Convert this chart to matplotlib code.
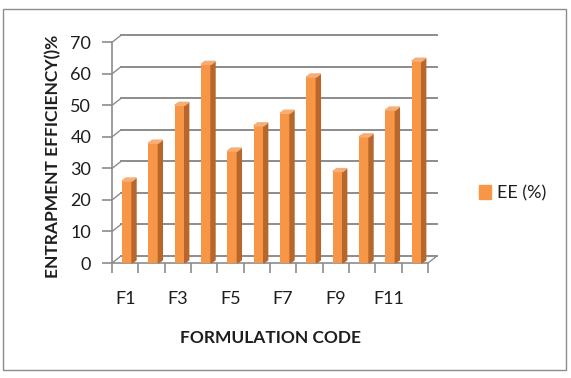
import matplotlib
matplotlib.use("Agg")
import matplotlib.pyplot as plt
from matplotlib.patches import Polygon, Rectangle, Patch

# Data
codes = ["F1", "F2", "F3", "F4", "F5", "F6", "F7", "F8", "F9", "F10", "F11", "F12"]
ee = [26, 38, 50, 63, 35.5, 43.5, 47.5, 59, 29, 40, 48.5, 64]
y_ticks = [0, 10, 20, 30, 40, 50, 60, 70]
shown_labels = ["F1", "F3", "F5", "F7", "F9", "F11"]

plt.rcParams["font.family"] = ["Lato", "DejaVu Sans"]

W, H = 571, 378
fig = plt.figure(figsize=(W / 100, H / 100), dpi=100)
ax = fig.add_axes([112 / W, 1 - 263 / H, 316 / W, (263 - 42.3) / H])
ax.set_xlim(0, len(codes))
ax.set_ylim(0, 70)

# pixel -> data conversion for the fake 3D depth
sx = len(codes) / ax.bbox.width
sy = 70 / ax.bbox.height
wall_dx, wall_dy = 9 * sx, 7 * sy
bar_dx, bar_dy = 4 * sx, 3 * sy

grid_c = "#8c8c8c"
text_c = "#1e1e1e"

# back wall gridlines + left diagonals
for v in y_ticks:
    ax.plot([wall_dx, len(codes) + wall_dx], [v + wall_dy, v + wall_dy],
            color=grid_c, lw=1.4, clip_on=False, zorder=1)
    ax.plot([0, wall_dx], [v, v + wall_dy], color=grid_c, lw=1.0,
            clip_on=False, zorder=1)
# right floor diagonal
ax.plot([len(codes), len(codes) + wall_dx], [0, wall_dy], color=grid_c,
        lw=1.0, clip_on=False, zorder=1)

# bars: front face, side face and top
front_c = "#F79646"
side_c = "#B8672C"
top_c = "#F6AE76"
bw = 0.38
lefts = [i + 0.38 for i in range(len(codes))]
ax.bar(lefts, ee, width=bw, align="edge", color=front_c, label="EE (%)",
       zorder=3, clip_on=False)
for x0, v in zip(lefts, ee):
    x1 = x0 + bw
    ax.add_patch(Polygon([(x1, 0), (x1 + bar_dx, bar_dy), (x1 + bar_dx, v + bar_dy), (x1, v)],
                         closed=True, color=side_c, zorder=3, clip_on=False))
    ax.add_patch(Polygon([(x0, v), (x1, v), (x1 + bar_dx, v + bar_dy), (x0 + bar_dx, v + bar_dy)],
                         closed=True, color=top_c, zorder=3, clip_on=False))

# spines and ticks
for s in ["top", "right"]:
    ax.spines[s].set_visible(False)
for s in ["left", "bottom"]:
    ax.spines[s].set_color(grid_c)
    ax.spines[s].set_linewidth(1.2)
ax.set_yticks(y_ticks)
ax.set_xticks(range(len(codes) + 1))
ax.set_xticklabels([])
ax.tick_params(axis="y", direction="out", length=7, width=1.2, color=grid_c,
               labelsize=13, pad=8, labelcolor=text_c)
ax.tick_params(axis="x", which="major", direction="out", length=7, width=1.2,
               color=grid_c)
centers = [i + 0.5 for i, c in enumerate(codes) if c in shown_labels]
ax.set_xticks(centers, minor=True)
ax.set_xticklabels(shown_labels, minor=True)
ax.tick_params(axis="x", which="minor", length=0, labelsize=13, pad=20,
               labelcolor=text_c)
ax.set_facecolor("none")

fig.text(53 / W, 1 - 156 / H, "ENTRAPMENT EFFICIENCY()%", rotation=90,
         ha="center", va="center", fontsize=12.5, fontweight="bold", color=text_c)
fig.text(270 / W, 1 - 338 / H, "FORMULATION CODE", ha="center", va="center",
         fontsize=12.5, fontweight="bold", color=text_c)

fig.legend(handles=[Patch(color=front_c, label="EE (%)")], loc="center left",
           bbox_to_anchor=(463 / W, 1 - 193 / H), frameon=False,
           handlelength=0.65, handleheight=0.8, handletextpad=0.35, fontsize=13,
           labelcolor=text_c)

fig.patches.append(Rectangle((3 / W, 1 - 370 / H), 563 / W, 361 / H,
                             transform=fig.transFigure, fill=False,
                             edgecolor="#8c8c8c", lw=1.0))

fig.savefig("out.png", dpi=100)
